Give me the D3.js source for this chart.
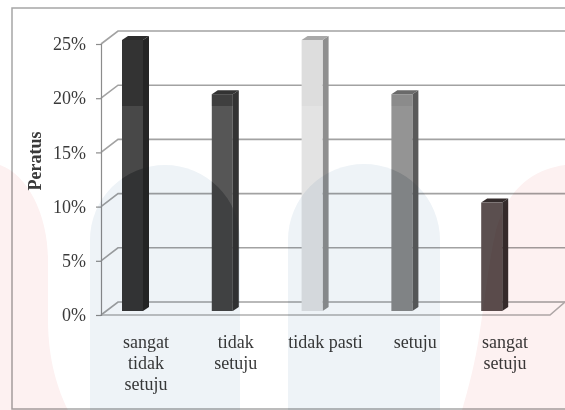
<!DOCTYPE html>
<html>
<head>
<meta charset="utf-8">
<script src="https://cdn.jsdelivr.net/npm/d3@7"></script>
<style>
  html, body { margin: 0; padding: 0; background: #fff; overflow: hidden; }
  svg { display: block; filter: blur(0.75px); }
  text { font-family: "Liberation Serif", serif; fill: #3a3a3a; }
</style>
</head>
<body>
<div id="chart"></div>
<script>
const categories = [["sangat", "tidak", "setuju"], ["tidak", "setuju"], ["tidak pasti"], ["setuju"], ["sangat", "setuju"]];
const values = [25, 20, 25, 20, 10];
const tickValues = [0, 5, 10, 15, 20, 25];
const yTitle = "Peratus";

const colors = ["#484848", "#565656", "#e3e3e3", "#949494", "#5b4f4f"];
const sideColors = ["#252525", "#333333", "#8f8f8f", "#5a5a5a", "#352c2c"];
const capColors = ["#2c2c2c", "#333333", "#a8a8a8", "#6a6a6a", "#332b2b"];
// the scan darkens the bars a bit above y=106 and inside the blue arches
const bandShade = ["#b4b4b4", "#bbbbbb", "#f9f9f9", "#f0f0f0", "#ffffff"];
const archShade = ["#bcbcbc", "#c8c8c8", "#ffffff", "#ececec", "#ffffff"];

const width = 565;
const height = 410;
const depth = { x: 17, y: 13 };
const barDepth = { x: 6, y: 4 };

const archPaths = [
  "M90,410V240A75,75 0 0 1 240,240V410Z",
  "M288,410V240A76,76 0 0 1 440,240V410Z"
];

const svg = d3.select("#chart")
  .append("svg")
  .attr("width", width)
  .attr("height", height);

svg.append("clipPath")
  .attr("id", "arches")
  .selectAll("path")
  .data(archPaths)
  .join("path")
  .attr("d", d => d);

const x = d3.scaleBand()
  .domain(d3.range(categories.length))
  .range([101, 550]);

const y = d3.scaleLinear()
  .domain([0, 25])
  .range([315, 44]);

// outer frame, cut off by the right edge of the image
svg.append("path")
  .attr("d", `M${width},8H12V409H${width}`)
  .attr("fill", "none")
  .attr("stroke", "#a6a6a6")
  .attr("stroke-width", 1.5);

// back wall gridlines and the little diagonals going to the axis
const grid = svg.append("g")
  .attr("fill", "none")
  .attr("stroke", "#a2a2a2")
  .attr("stroke-width", 1.6);

grid.selectAll("path")
  .data(tickValues)
  .join("path")
  .attr("d", d => `M${x.range()[0]},${y(d)}l${depth.x},${-depth.y}H${width}`);

// floor front edge
svg.append("path")
  .attr("d", `M${x.range()[0]},${y(0)}H${x.range()[1]}l${width - x.range()[1]},${-depth.y}`)
  .attr("fill", "none")
  .attr("stroke", "#b0b0b0")
  .attr("stroke-width", 1.6);

const yAxis = svg.append("g")
  .attr("transform", `translate(${x.range()[0]},0)`)
  .call(d3.axisLeft(y).tickValues(tickValues).tickFormat(d => d + "%").tickSize(5).tickPadding(10));

yAxis.selectAll("path, line").attr("stroke", "#8c8c8c").attr("stroke-width", 1.2);
yAxis.selectAll("text").style("font-size", "18px").attr("font-family", null);

svg.append("text")
  .attr("transform", "translate(41,161) rotate(-90)")
  .attr("text-anchor", "middle")
  .style("font-size", "18px")
  .style("font-weight", "bold")
  .text(yTitle);

// 3d bars, front face sits slightly in front of the floor's back edge
const barBase = 311;
const barWidth = 21;
const barLeft = i => x(i) + 21;
const barTop = v => y(v) - y(0) + barBase;

const bars = svg.append("g")
  .selectAll("g")
  .data(values)
  .join("g");

bars.append("path")
  .attr("fill", (d, i) => sideColors[i])
  .attr("d", (d, i) => `M${barLeft(i) + barWidth},${barTop(d)}l${barDepth.x},${-barDepth.y}V${barBase - barDepth.y}l${-barDepth.x},${barDepth.y}Z`);

bars.append("path")
  .attr("fill", (d, i) => capColors[i])
  .attr("d", (d, i) => `M${barLeft(i)},${barTop(d)}l${barDepth.x},${-barDepth.y}h${barWidth}l${-barDepth.x},${barDepth.y}Z`);

bars.append("rect")
  .attr("x", (d, i) => barLeft(i))
  .attr("y", d => barTop(d))
  .attr("width", barWidth)
  .attr("height", d => barBase - barTop(d))
  .attr("fill", (d, i) => colors[i]);

bars.append("rect")
  .attr("x", (d, i) => barLeft(i))
  .attr("y", d => barTop(d))
  .attr("width", barWidth)
  .attr("height", d => Math.max(0, 106 - barTop(d)))
  .attr("fill", (d, i) => bandShade[i])
  .style("mix-blend-mode", "multiply");

bars.append("rect")
  .attr("x", (d, i) => barLeft(i))
  .attr("y", d => barTop(d))
  .attr("width", barWidth)
  .attr("height", d => barBase - barTop(d))
  .attr("fill", (d, i) => archShade[i])
  .attr("clip-path", "url(#arches)")
  .style("mix-blend-mode", "multiply");

// category labels
const labels = svg.append("g")
  .selectAll("text")
  .data(categories)
  .join("text")
  .attr("text-anchor", "middle")
  .style("font-size", "18px");

labels.selectAll("tspan")
  .data((d, i) => d.map(line => ({ line, i })))
  .join("tspan")
  .attr("x", d => x(d.i) + x.bandwidth() / 2)
  .attr("y", (d, j) => 348 + j * 21)
  .text(d => d.line);

// pale watermark on top of everything
const mark = svg.append("g").style("mix-blend-mode", "multiply");

mark.selectAll("path.arch")
  .data(archPaths)
  .join("path")
  .attr("class", "arch")
  .attr("fill", "#eef3f7")
  .attr("d", d => d);
mark.append("path")
  .attr("fill", "#fdf1f1")
  .attr("d", "M0,410V165C28,175 48,215 48,260V320C48,360 58,390 68,410Z");
mark.append("path")
  .attr("fill", "#fdf1f1")
  .attr("d", "M565,165C530,170 508,190 496,230C488,265 485,300 480,330C476,360 468,390 462,410H565Z");
</script>
</body>
</html>
